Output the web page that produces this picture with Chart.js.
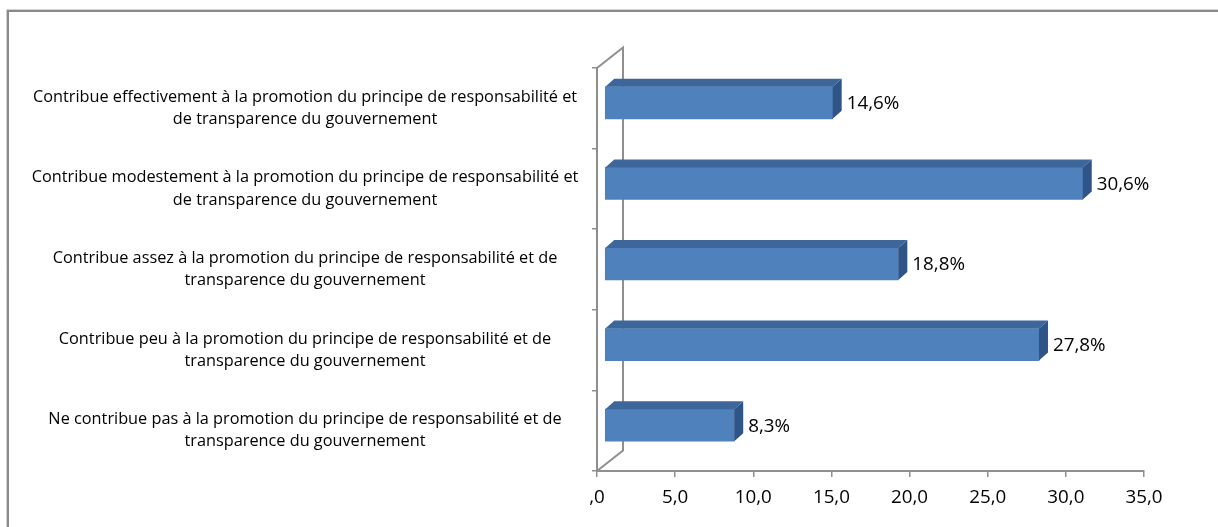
<!DOCTYPE html>
<html lang="fr">
<head>
<meta charset="utf-8">
<script src="https://cdn.jsdelivr.net/npm/chart.js@4/dist/chart.umd.min.js"></script>
<style>
  html, body { margin: 0; padding: 0; background: #ffffff; }
  #wrap { position: relative; width: 1218px; height: 527px; }
</style>
</head>
<body>
<div id="wrap"><canvas id="c" width="1218" height="527"></canvas></div>
<script>
// Survey answers (top to bottom) and their shares in percent
const categories = [
  ['Contribue effectivement à la promotion du principe de responsabilité et', 'de transparence du gouvernement'],
  ['Contribue modestement à la promotion du principe de responsabilité et', 'de transparence du gouvernement'],
  ['Contribue assez à la promotion du principe de responsabilité et de', 'transparence du gouvernement'],
  ['Contribue peu à la promotion du principe de responsabilité et de', 'transparence du gouvernement'],
  ['Ne contribue pas à la promotion du principe de responsabilité et de', 'transparence du gouvernement']
];
const shares = [14.6, 30.6, 18.8, 27.8, 8.3];
const xTickLabels = [',0', '5,0', '10,0', '15,0', '20,0', '25,0', '30,0', '35,0'];

const FONT = '"Open Sans", "DejaVu Sans", sans-serif';
const CAT_SIZE = 16.3;
const NUM_SIZE = 18.8;
const AXIS_GREY = '#8f8f8f';

// Depth of the 3D frame walls and of the bars
const WALL_DX = 26, WALL_DY = -20.5;
const BAR_SHIFT_X = 7.5, BAR_SHIFT_Y = -5.5;
const BAR_DX = 9, BAR_DY = -8;

// Centre the wrapped category labels in the left margin
const measureCtx = document.createElement('canvas').getContext('2d');
measureCtx.font = CAT_SIZE + 'px ' + FONT;
let widest = 0;
categories.forEach(lines => lines.forEach(l => { widest = Math.max(widest, measureCtx.measureText(l).width); }));
const labelCentre = 305;
const chartLeft = 597;
const yTickLen = 5;
const yPad = Math.max(2, chartLeft - labelCentre - yTickLen - widest / 2);

const fmtPct = v => v.toFixed(1).replace('.', ',') + '%';

const framePlugin = {
  id: 'frame',
  beforeDraw(chart) {
    const ctx = chart.ctx;
    ctx.save();
    ctx.strokeStyle = '#d2d2d2';
    ctx.lineWidth = 1;
    ctx.beginPath();
    ctx.moveTo(6.5, 527); ctx.lineTo(6.5, 9.5); ctx.lineTo(1218, 9.5);
    ctx.stroke();
    ctx.strokeStyle = '#8a8a8a';
    ctx.lineWidth = 2;
    ctx.beginPath();
    ctx.moveTo(8, 527); ctx.lineTo(8, 11); ctx.lineTo(1218, 11);
    ctx.stroke();
    ctx.restore();
  }
};

const depthPlugin = {
  id: 'depth',
  beforeDatasetsDraw(chart) {
    const ctx = chart.ctx;
    const a = chart.chartArea;
    // side wall and back edge of the 3D frame
    ctx.save();
    ctx.strokeStyle = AXIS_GREY;
    ctx.lineWidth = 2;
    ctx.beginPath();
    ctx.moveTo(a.left, a.top);
    ctx.lineTo(a.left + WALL_DX, a.top + WALL_DY);
    ctx.lineTo(a.left + WALL_DX, a.bottom + WALL_DY);
    ctx.lineTo(a.left, a.bottom);
    ctx.stroke();
    ctx.restore();
    // bars sit halfway into the depth
    ctx.save();
    ctx.translate(BAR_SHIFT_X, BAR_SHIFT_Y);
  },
  afterDatasetsDraw(chart) {
    const ctx = chart.ctx;
    const meta = chart.getDatasetMeta(0);
    const values = chart.data.datasets[0].data;
    meta.data.forEach((bar, i) => {
      const p = bar.getProps(['x', 'y', 'base', 'height'], true);
      const top = p.y - p.height / 2;
      const bottom = p.y + p.height / 2;
      // top face
      ctx.fillStyle = '#3d679b';
      ctx.beginPath();
      ctx.moveTo(p.base, top);
      ctx.lineTo(p.base + BAR_DX, top + BAR_DY);
      ctx.lineTo(p.x + BAR_DX, top + BAR_DY);
      ctx.lineTo(p.x, top);
      ctx.closePath();
      ctx.fill();
      // end face
      ctx.fillStyle = '#2f5487';
      ctx.beginPath();
      ctx.moveTo(p.x, top);
      ctx.lineTo(p.x + BAR_DX, top + BAR_DY);
      ctx.lineTo(p.x + BAR_DX, bottom + BAR_DY);
      ctx.lineTo(p.x, bottom);
      ctx.closePath();
      ctx.fill();
      // value label
      ctx.fillStyle = '#000000';
      ctx.font = NUM_SIZE + 'px ' + FONT;
      ctx.textAlign = 'left';
      ctx.textBaseline = 'middle';
      ctx.fillText(fmtPct(values[i]), p.x + BAR_DX + 5, p.y + 1);
    });
    ctx.restore();
  }
};

new Chart(document.getElementById('c'), {
  type: 'bar',
  data: {
    labels: categories,
    datasets: [{
      data: shares,
      backgroundColor: '#4f81bd',
      borderWidth: 0,
      barThickness: 32
    }]
  },
  options: {
    indexAxis: 'y',
    responsive: false,
    animation: false,
    devicePixelRatio: 1,
    layout: { padding: { left: 8, top: 68, right: 74, bottom: 0 } },
    plugins: { legend: { display: false }, tooltip: { enabled: false } },
    scales: {
      x: {
        min: 0, max: 35,
        afterFit(s) { s.height = 56; },
        grid: { drawOnChartArea: false, tickLength: 6, color: AXIS_GREY, lineWidth: 1.5 },
        border: { color: AXIS_GREY, width: 2 },
        ticks: {
          stepSize: 5, autoSkip: false, maxRotation: 0, padding: 9,
          color: '#000000',
          font: { family: FONT, size: NUM_SIZE },
          callback: (v, i) => xTickLabels[i]
        }
      },
      y: {
        afterFit(s) { s.width = chartLeft - 8; },
        grid: { drawOnChartArea: false, tickLength: yTickLen, color: AXIS_GREY, lineWidth: 1.5, offset: true },
        border: { color: AXIS_GREY, width: 2 },
        ticks: {
          crossAlign: 'center', padding: yPad,
          color: '#000000',
          font: { family: FONT, size: CAT_SIZE, lineHeight: 1.36 }
        }
      }
    }
  },
  plugins: [framePlugin, depthPlugin]
});
</script>
</body>
</html>
